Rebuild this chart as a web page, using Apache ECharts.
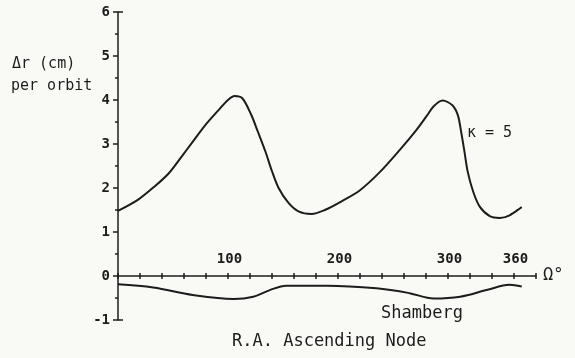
<!DOCTYPE html>
<html>
<head>
<meta charset="utf-8">
<script src="https://cdn.jsdelivr.net/npm/echarts@6/dist/echarts.min.js"></script>
<style>
  html, body { margin: 0; padding: 0; background: #f9f9f6; }
  #chart { width: 575px; height: 358px; }
</style>
</head>
<body>
<div id="chart"></div>
<script>
// R.A. of ascending node (deg) and delta r per orbit (cm)
const kappaDeg = [0, 18, 33, 46, 58, 67, 79, 91, 100, 106, 113, 121, 127, 134, 140, 146, 155, 164, 176, 188,
  202, 220, 238, 256, 271, 281, 287, 295, 304, 309, 312, 315, 318, 323, 329, 338, 347, 356, 367];
const kappaVal = [1.48, 1.73, 2.03, 2.33, 2.72, 3.02, 3.42, 3.76, 4.00, 4.09, 4.04, 3.67, 3.29, 2.83, 2.38, 2.00, 1.66, 1.47, 1.41, 1.50,
  1.68, 1.95, 2.36, 2.86, 3.31, 3.65, 3.86, 3.99, 3.88, 3.65, 3.27, 2.82, 2.36, 1.91, 1.57, 1.36, 1.32, 1.38, 1.57];
const shambergDeg = [0, 32, 68, 105, 123, 138, 153, 190, 235, 265, 287, 311, 335, 356, 367];
const shambergVal = [-0.19, -0.26, -0.43, -0.52, -0.47, -0.32, -0.22, -0.22, -0.28, -0.39, -0.51, -0.47, -0.32, -0.20, -0.24];
const xLabels = [100, 200, 300, 360];

const ink = '#1c1c1c';
const mono = 'DejaVu Sans Mono';

const chart = echarts.init(document.getElementById('chart'));

const toPairs = (xs, ys) => xs.map((x, i) => [x, ys[i]]);

const option = {
  backgroundColor: '#f9f9f6',
  animation: false,
  grid: [
    { left: 118, right: 39, top: 12, bottom: 38, outerBoundsMode: 'none' },
    // strip under the zero line, only carries the labels + upper ticks
    { left: 118, right: 39, top: 276, bottom: 38, outerBoundsMode: 'none' },
  ],
  xAxis: [
    {
      type: 'value',
      min: 0,
      max: 380,
      interval: 20,
      name: 'Ω°',
      nameLocation: 'end',
      nameGap: 7,
      nameTextStyle: { color: ink, fontFamily: mono, fontSize: 17, verticalAlign: 'middle' },
      axisLine: { onZero: true, onZeroAxisIndex: 0, lineStyle: { color: ink, width: 1.5 } },
      axisTick: { show: true, length: 3, lineStyle: { color: ink, width: 1.5 } },
      axisLabel: { show: false },
      splitLine: { show: false },
    },
    {
      gridIndex: 1,
      type: 'value',
      min: 0,
      max: 380,
      interval: 20,
      position: 'top',
      axisLine: { show: false, onZero: false },
      axisTick: { show: true, length: 3, lineStyle: { color: ink, width: 1.5 } },
      axisLabel: {
        margin: 10,
        padding: [0, 0, 0, 3],
        color: ink,
        fontFamily: mono,
        fontSize: 14,
        fontWeight: 'bold',
        formatter: (v) => (xLabels.includes(v) ? String(v) : ''),
      },
      splitLine: { show: false },
    },
  ],
  yAxis: [
    {
      type: 'value',
      min: -1,
      max: 6,
      interval: 1,
      axisLine: { show: true, lineStyle: { color: ink, width: 1.5 } },
      axisTick: { show: true, length: 5, lineStyle: { color: ink, width: 1.5 } },
      minorTick: { show: true, splitNumber: 2, length: 3, lineStyle: { color: ink, width: 1.5 } },
      axisLabel: { margin: 8, color: ink, fontFamily: mono, fontSize: 14, fontWeight: 'bold' },
      splitLine: { show: false },
    },
    {
      // end caps at -1 and 6
      type: 'value',
      min: -1,
      max: 6,
      interval: 7,
      position: 'left',
      axisLine: { show: false },
      axisTick: { show: true, inside: true, length: 5, lineStyle: { color: ink, width: 1.5 } },
      axisLabel: { show: false },
      splitLine: { show: false },
    },
    {
      gridIndex: 1,
      type: 'value',
      min: 0,
      max: 1,
      show: false,
    },
  ],
  series: [
    {
      name: 'κ = 5',
      type: 'line',
      data: toPairs(kappaDeg, kappaVal),
      smooth: 0.3,
      symbol: 'none',
      lineStyle: { color: ink, width: 2 },
    },
    {
      name: 'Shamberg',
      type: 'line',
      data: toPairs(shambergDeg, shambergVal),
      smooth: 0.35,
      symbol: 'none',
      lineStyle: { color: ink, width: 2 },
    },
  ],
  graphic: [
    { type: 'text', left: 12, top: 57, style: { text: 'Δr (cm)', fill: ink, font: `15px "${mono}"` } },
    { type: 'text', left: 11, top: 79, style: { text: 'per orbit', fill: ink, font: `15px "${mono}"` } },
    { type: 'text', left: 467, top: 126, style: { text: 'κ = 5', fill: ink, font: `15px "${mono}"` } },
    { type: 'text', left: 381, top: 305, style: { text: 'Shamberg', fill: ink, font: `17px "${mono}"` } },
    { type: 'text', left: 232, top: 333, style: { text: 'R.A. Ascending Node', fill: ink, font: `17px "${mono}"` } },
  ],
};

chart.setOption(option);
</script>
</body>
</html>
